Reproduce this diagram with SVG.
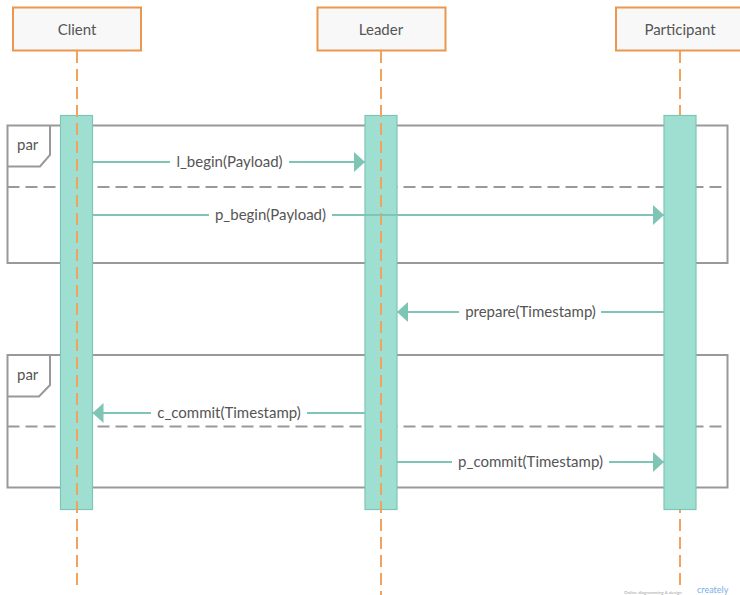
<svg xmlns="http://www.w3.org/2000/svg" width="740" height="595" viewBox="0 0 740 595">
  <style>
    .head { fill: #f8f8f8; stroke: #e8994f; stroke-width: 2; }
    .headtxt { font-family: Lato, "Open Sans", sans-serif; font-size: 15px; fill: #555; text-anchor: middle; }
    .life { stroke: #f0a35c; stroke-width: 2; stroke-dasharray: 12 6; fill: none; }
    .bar { fill: #9fdfd2; stroke: #7fc5b5; stroke-width: 1.2; }
    .frame { fill: none; stroke: #999; stroke-width: 2; }
    .divider { stroke: #999; stroke-width: 2; stroke-dasharray: 12 6; fill: none; }
    .tag { font-family: Lato, "Open Sans", sans-serif; font-size: 15px; fill: #555; }
    .msg { stroke: #7fc5b5; stroke-width: 2; fill: none; }
    .head-arrow { fill: #7fc5b5; }
    .lbl { font-family: Lato, "Open Sans", sans-serif; font-size: 15px; fill: #555; text-anchor: middle; }
    .gap { fill: #fff; }
  </style>
  <defs>
    <marker id="tri" viewBox="0 0 11 20" refX="11" refY="10" markerWidth="11" markerHeight="20" markerUnits="userSpaceOnUse" orient="auto">
      <path d="M0 0 L11 10 L0 20 Z" class="head-arrow"/>
    </marker>
  </defs>

  <!-- combined fragments -->
  <g id="par1">
    <rect class="frame" x="7.5" y="125.5" width="720" height="137.5"/>
    <path class="frame" d="M50 125.5 V155 L40 166.5 H7.5"/>
    <line class="divider" x1="7.5" y1="187" x2="727.5" y2="187"/>
    <text class="tag" x="17" y="150">par</text>
  </g>
  <g id="par2">
    <rect class="frame" x="7.5" y="355" width="720" height="132.5"/>
    <path class="frame" d="M50 355 V385 L39 396.5 H7.5"/>
    <line class="divider" x1="7.5" y1="426.5" x2="727.5" y2="426.5"/>
    <text class="tag" x="17" y="380">par</text>
  </g>

  <!-- lifelines -->
  <g id="client">
    <rect class="head" x="13" y="7.5" width="128" height="43"/>
    <text class="headtxt" x="77" y="34.5">Client</text>
    <rect class="bar" x="60.5" y="115.5" width="32" height="394"/>
    <line class="life" x1="77" y1="51" x2="77" y2="589"/>
  </g>
  <g id="leader">
    <rect class="head" x="317.5" y="7.5" width="128" height="43"/>
    <text class="headtxt" x="381" y="34.5">Leader</text>
    <rect class="bar" x="365" y="115.5" width="32" height="394"/>
    <line class="life" x1="381" y1="51" x2="381" y2="595"/>
  </g>
  <g id="participant">
    <rect class="head" x="616" y="7.5" width="128" height="43"/>
    <text class="headtxt" x="680" y="34.5">Participant</text>
    <line class="life" x1="680" y1="51" x2="680" y2="590"/>
    <rect class="bar" x="664" y="115.5" width="32" height="394"/>
  </g>

  <!-- messages -->
  <g id="connectors">
    <line class="msg" x1="92.5" y1="162" x2="365" y2="162" marker-end="url(#tri)"/>
    <rect class="gap" x="170" y="152" width="119" height="20"/>
    <text class="lbl" x="229.5" y="167">l_begin(Payload)</text>

    <line class="msg" x1="92.5" y1="215" x2="664" y2="215" marker-end="url(#tri)"/>
    <rect class="gap" x="209" y="205" width="123" height="20"/>
    <text class="lbl" x="270.5" y="220">p_begin(Payload)</text>

    <line class="msg" x1="664" y1="312" x2="397" y2="312" marker-end="url(#tri)"/>
    <rect class="gap" x="459" y="302" width="142" height="20"/>
    <text class="lbl" x="530.5" y="317">prepare(Timestamp)</text>

    <line class="msg" x1="365" y1="413" x2="92.5" y2="413" marker-end="url(#tri)"/>
    <rect class="gap" x="151" y="403" width="156" height="20"/>
    <text class="lbl" x="229" y="418">c_commit(Timestamp)</text>

    <line class="msg" x1="397" y1="462" x2="664" y2="462" marker-end="url(#tri)"/>
    <rect class="gap" x="452" y="452" width="157" height="20"/>
    <text class="lbl" x="530.5" y="467">p_commit(Timestamp)</text>
  </g>

  <!-- footer mark -->
  <g id="footer" opacity="0.7">
    <text x="624" y="594" font-family="Lato, sans-serif" font-size="4.5" fill="#777">Online diagramming &amp; design</text>
    <text x="697" y="593" font-family="Lato, sans-serif" font-size="9" fill="#3d8fd6">creately</text>
  </g>
</svg>
